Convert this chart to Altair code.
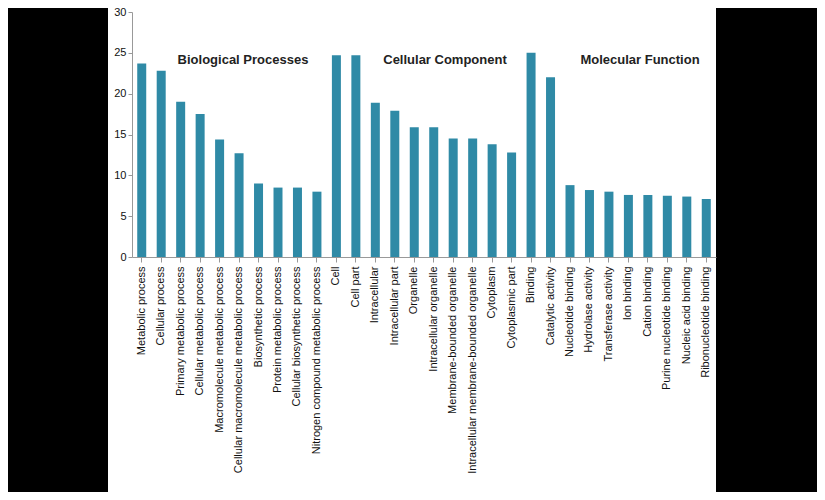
import altair as alt
import pandas as pd

categories = ["Metabolic process","Cellular process","Primary metabolic process","Cellular metabolic process",
"Macromolecule metabolic process","Cellular macromolecule metabolic process","Biosynthetic process",
"Protein metabolic process","Cellular biosynthetic process","Nitrogen compound metabolic process",
"Cell","Cell part","Intracellular","Intracellular part","Organelle","Intracellular organelle",
"Membrane-bounded organelle","Intracellular membrane-bounded organelle","Cytoplasm","Cytoplasmic part",
"Binding","Catalytic activity","Nucleotide binding","Hydrolase activity","Transferase activity",
"Ion binding","Cation binding","Purine nucleotide binding","Nucleic acid binding","Ribonucleotide binding"]
values = [23.7,22.8,19.0,17.5,14.4,12.7,9.0,8.5,8.5,8.0,
          24.7,24.7,18.9,17.9,15.9,15.9,14.5,14.5,13.8,12.8,
          25.0,22.0,8.8,8.2,8.0,7.6,7.6,7.5,7.4,7.1]
groups = ["Biological Processes","Cellular Component","Molecular Function"]
group_x = [111, 313, 508]

df = pd.DataFrame({"cat": categories, "val": values})
W, H = 584, 245

bg = alt.Chart(pd.DataFrame({"a": [0]})).mark_rect(color="white").encode(
    x=alt.value(-24), x2=alt.value(584), y=alt.value(-8), y2=alt.value(500))

bars = alt.Chart(df).mark_bar(color="#2f8aa6", size=9).encode(
    x=alt.X("cat:N", sort=categories, title=None,
            axis=alt.Axis(labelAngle=-90, labelFont="Liberation Sans", labelFontSize=11,
                          labelColor="#111", domainColor="#999", tickColor="#999",
                          labelPadding=4, labelLimit=300, zindex=2)),
    y=alt.Y("val:Q", scale=alt.Scale(domain=[0, 30]), title=None,
            axis=alt.Axis(values=[0,5,10,15,20,25,30], grid=False, labelFont="Liberation Sans",
                          labelFontSize=11, labelColor="#111", domainColor="#999",
                          tickColor="#999", tickSize=4, zindex=2)))

tdf = pd.DataFrame({"g": groups, "px": group_x})
texts = alt.Chart(tdf).mark_text(font="Liberation Sans", fontSize=13, fontWeight="bold",
                                 color="#222", align="center").encode(
    text="g:N", x=alt.X("px:Q", scale=None), y=alt.value(48))

chart = alt.layer(bg, bars, texts).properties(
    width=W, height=H, background="black",
    padding={"left": 124, "top": 4, "right": 101, "bottom": 235},
    autosize=alt.AutoSizeParams(type="none")
).configure_view(stroke=None)

chart.save("out.html", embed_options={"renderer": "svg", "actions": False})
